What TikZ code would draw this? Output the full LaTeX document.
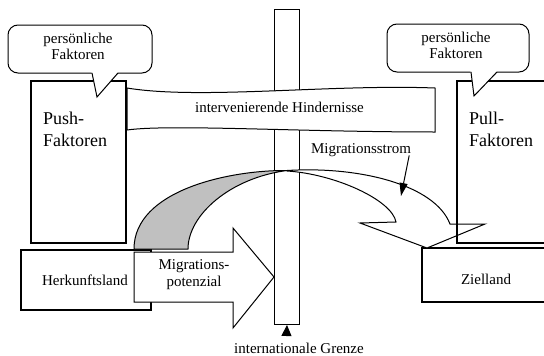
\documentclass[tikz,border=0pt]{standalone}
\usepackage{fontspec}
\setmainfont{Liberation Serif}
\usetikzlibrary{arrows.meta,calc}
\definecolor{bandgray}{RGB}{192,192,192}
\begin{document}
\begin{tikzpicture}[x=1pt,y=-1pt,
  thinline/.style={line width=1pt},
  boxline/.style={line width=2.2pt},
  txt/.style={inner sep=0pt, font=\fontsize{15}{16}\selectfont},
  bigtxt/.style={inner sep=0pt, font=\fontsize{18}{22}\selectfont, align=left},
  ptr/.style={line width=1pt, -{Triangle[length=13pt,width=8pt]}},
  line join=miter]
\useasboundingbox (0,0) rectangle (544,356);

% border pole
\node[draw, thinline, fill=white, minimum width=25pt, minimum height=315pt,
      inner sep=0pt, anchor=north west] (pole) at (274,9) {};

% boxes
\draw[boxline, fill=white] (31,81) rectangle (126,243);
\draw[boxline, fill=white] (21,250) rectangle (151,310);
\draw[boxline, fill=white] (422,248) rectangle (547,302);

% migration stream: grey part left of the border
\draw[thinline, fill=bandgray] (134,249) .. controls (134,190) and (230,170) .. (287,170.5)
  .. controls (230,178) and (188,215) .. (188,249) -- cycle;
% migration stream: white part right of the border
\draw[thinline, fill=white] (287,170.5) .. controls (360,166) and (435,185) .. (450,224)
  -- (485,224) -- (427,248) -- (360,223) -- (396,222)
  .. controls (392,200) and (335,174) .. (287,171) -- cycle;

% migration potential arrow
\draw[thinline, fill=white] (134,252) -- (233,252) -- (233,228) -- (274,277)
  -- (233,328) -- (233,302) -- (134,302) -- cycle;

% pull box outline (on top of the stream arrow)
\draw[boxline] (457,81) rectangle (547,243);

% banner
\draw[thinline, fill=white] (127,88) .. controls (200,100) and (330,84) .. (435,88)
  -- (435,132) .. controls (300,132) and (170,124) .. (127,130) -- cycle;

% callouts
\draw[thinline, fill=white, rounded corners=10pt] (8,25) rectangle (152,73);
\fill[white] (91.5,71.5) -- (118.5,71.5) -- (97,97) -- cycle;
\draw[thinline] (92,73) -- (97,97) -- (118,73);
\draw[thinline, fill=white, rounded corners=10pt] (387,24) rectangle (529,72);
\fill[white] (470.5,70.5) -- (497.5,70.5) -- (474,96) -- cycle;
\draw[thinline] (471,72) -- (474,96) -- (497,72);

% texts
\node[txt, align=center] (pfl) at (78,46) {persönliche\\Faktoren};
\node[txt, align=center] (pfr) at (456,45) {persönliche\\Faktoren};
\node[bigtxt, anchor=west] (push) at (43,129) {Push-\\Faktoren};
\node[bigtxt, anchor=west] (pull) at (469,129) {Pull-\\Faktoren};
\node[txt, anchor=base] (hind) at (279.5,112) {intervenierende Hindernisse};
\node[txt, anchor=base] (herk) at (85,285) {Herkunftsland};
\node[txt, align=center, font=\fontsize{15}{17}\selectfont] (mpot) at (194,275) {Migrations-\\potenzial};
\node[txt, anchor=base] (ziel) at (486,284) {Zielland};
\node[txt, anchor=base] (strom) at (361,153) {Migrationsstrom};
\node[txt, anchor=base] (grenze) at (299,353) {internationale Grenze};

% pointers
\coordinate (stromtip) at (401,196);
\draw[ptr] ($(strom.south east)+(-2,-1)$) -- (stromtip);
\coordinate (gbase) at (286.5,336);
\draw[thinline, -{Triangle[length=11pt,width=10pt]}] (gbase) -- (pole.south);
\end{tikzpicture}
\end{document}
